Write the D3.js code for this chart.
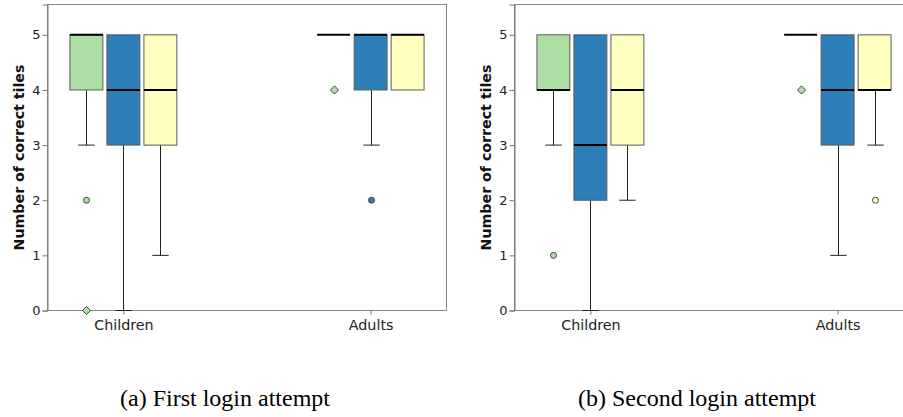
<!DOCTYPE html>
<html><head><meta charset="utf-8">
<script src="https://cdn.jsdelivr.net/npm/d3@7"></script>
<style>body{margin:0;background:#fff}svg{display:block}</style>
</head><body>
<svg id="c" width="903" height="417"></svg>
<script>
// ---------- data ----------
const categories = ["Children", "Adults"];
const series = ["group1", "group2", "group3"];
const yTicks = [0, 1, 2, 3, 4, 5];
const captions = ["(a) First login attempt", "(b) Second login attempt"];
const yTitle = "Number of correct tiles";

// order: Children(g1,g2,g3), Adults(g1,g2,g3)
const firstLow     = [3, 0, 1, 5, 3, 4];
const firstQ1      = [4, 3, 3, 5, 4, 4];
const firstMedian  = [5, 4, 4, 5, 5, 5];
const firstQ3      = [5, 5, 5, 5, 5, 5];
const firstHigh    = [5, 5, 5, 5, 5, 5];
const firstOutliers = [[2], [], [], [], [2], []];
const firstExtremes = [[0], [], [], [4], [], []];

const secondLow     = [3, 0, 2, 5, 1, 3];
const secondQ1      = [4, 2, 3, 5, 3, 4];
const secondMedian  = [4, 3, 4, 5, 4, 4];
const secondQ3      = [5, 5, 5, 5, 5, 5];
const secondHigh    = [5, 5, 5, 5, 5, 5];
const secondOutliers = [[1], [], [], [], [], [2]];
const secondExtremes = [[], [], [], [4], [], []];

const panels = [
  {low: firstLow, q1: firstQ1, med: firstMedian, q3: firstQ3, high: firstHigh, out: firstOutliers, ext: firstExtremes},
  {low: secondLow, q1: secondQ1, med: secondMedian, q3: secondQ3, high: secondHigh, out: secondOutliers, ext: secondExtremes}
];

// ---------- styles ----------
const colors = ["#addfa4", "#2c7fb8", "#ffffbf"];
const svg = d3.select("#c");
const panelW = 399, panelOffset = 467;
const plotTop = 4.5, plotBottom = 310.5;

const y = d3.scaleLinear().domain([0, 5.55]).range([plotBottom, plotTop]);

panels.forEach((p, pi) => {
  const left = 47.5 + pi * panelOffset;
  const g = svg.append("g");
  const x = d3.scalePoint().domain(categories).range([left, left + panelW]).padding(0.307);
  const xs = d3.scaleBand().domain(series).range([-55.5, 55.5]).paddingInner(0.11).paddingOuter(0.055);

  // frame
  g.append("rect").attr("x", left).attr("y", plotTop).attr("width", panelW).attr("height", plotBottom - plotTop)
    .attr("fill", "none").attr("stroke", "#8a8a8a").attr("stroke-width", 1);

  // y axis
  const ya = g.append("g").attr("transform", `translate(${left},0)`)
    .call(d3.axisLeft(y).tickValues(yTicks).tickFormat(d3.format("d")).tickSize(5).tickPadding(2));
  ya.select(".domain").attr("stroke", "#777");
  ya.selectAll(".tick line").attr("stroke", "#777");
  ya.selectAll(".tick text").attr("font-family", "DejaVu Sans, sans-serif").attr("font-size", 13).attr("fill", "#222");

  // x axis
  const xa = g.append("g").attr("transform", `translate(0,${plotBottom})`)
    .call(d3.axisBottom(x).tickSize(4).tickPadding(5));
  xa.select(".domain").remove();
  xa.selectAll(".tick line").attr("stroke", "#777");
  xa.selectAll(".tick text").attr("font-family", "DejaVu Sans, sans-serif").attr("font-size", 14.3).attr("fill", "#222");

  // y title
  g.append("text").attr("transform", `translate(${left - 23.5},${(plotTop + plotBottom) / 2 + 0}) rotate(-90)`)
    .attr("text-anchor", "middle").attr("font-family", "DejaVu Sans, sans-serif").attr("font-weight", "bold")
    .attr("font-size", 14.2).attr("fill", "#111").text(yTitle);

  // boxes
  categories.forEach((c, ci) => {
    series.forEach((s, si) => {
      const i = ci * 3 + si;
      const x0 = x(c) + xs(s), bw = xs.bandwidth(), cx = Math.round(x0 + bw / 2) + 0.5;
      if (p.low[i] < p.q1[i]) {
        g.append("line").attr("x1", cx).attr("x2", cx).attr("y1", y(p.q1[i])).attr("y2", y(p.low[i]))
          .attr("stroke", "#222").attr("stroke-width", 1);
        g.append("line").attr("x1", cx - bw / 4).attr("x2", cx + bw / 4).attr("y1", y(p.low[i])).attr("y2", y(p.low[i]))
          .attr("stroke", "#222").attr("stroke-width", 1);
      }
      if (p.high[i] > p.q3[i]) {
        g.append("line").attr("x1", cx).attr("x2", cx).attr("y1", y(p.q3[i])).attr("y2", y(p.high[i]))
          .attr("stroke", "#222");
      }
      if (p.q3[i] > p.q1[i]) {
        g.append("rect").attr("x", x0).attr("y", y(p.q3[i])).attr("width", bw).attr("height", y(p.q1[i]) - y(p.q3[i]))
          .attr("fill", colors[si]).attr("stroke", "#5a5a5a").attr("stroke-width", 1);
      }
      g.append("line").attr("x1", x0).attr("x2", x0 + bw).attr("y1", y(p.med[i])).attr("y2", y(p.med[i]))
        .attr("stroke", "#000").attr("stroke-width", 2);
      p.out[i].forEach(v => {
        g.append("circle").attr("cx", cx).attr("cy", y(v)).attr("r", 3)
          .attr("fill", colors[si]).attr("stroke", "#444").attr("stroke-width", 1);
      });
      p.ext[i].forEach(v => {
        g.append("path").attr("d", d3.symbol().type(d3.symbolDiamond2).size(42)())
          .attr("transform", `translate(${cx},${y(v)})`)
          .attr("fill", colors[si]).attr("stroke", "#444").attr("stroke-width", 1);
      });
    });
  });

  // caption
  g.append("text").attr("x", pi === 0 ? 225 : 697).attr("y", 405.5).attr("text-anchor", "middle")
    .attr("font-family", "Liberation Serif, Times New Roman, serif").attr("font-size", 24).attr("fill", "#000")
    .text(captions[pi]);
});
</script>
</body></html>
